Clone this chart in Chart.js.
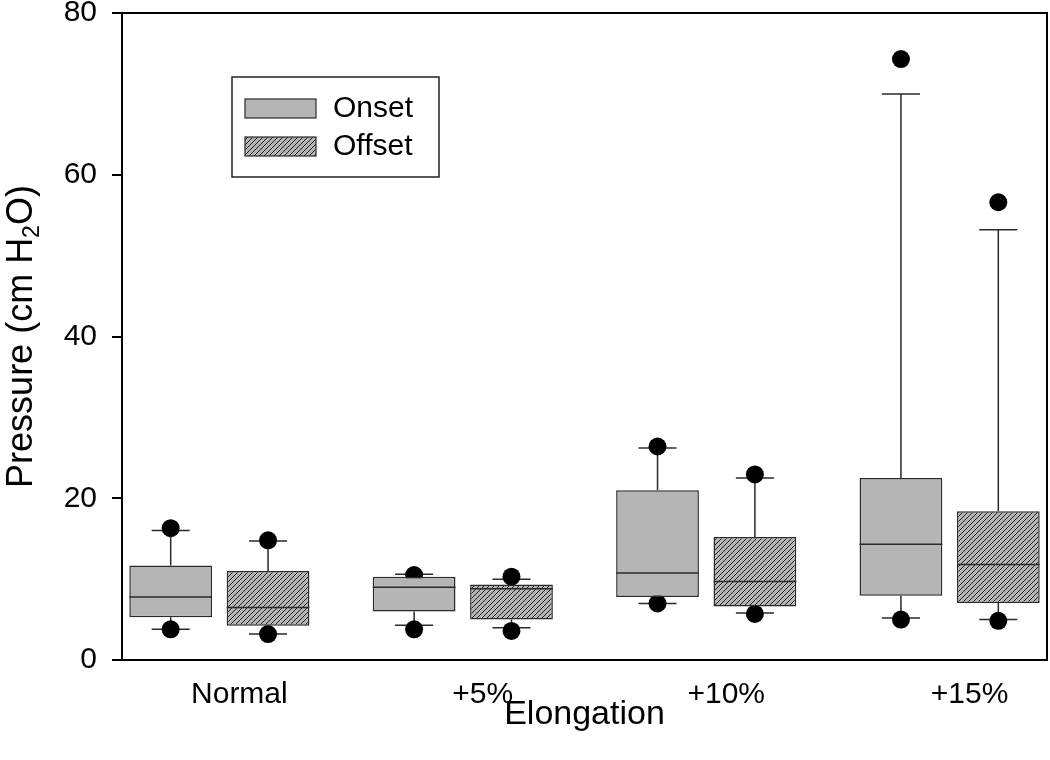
<!DOCTYPE html>
<html>
<head>
<meta charset="utf-8">
<script src="https://cdn.jsdelivr.net/npm/chart.js@4.4.1/dist/chart.umd.min.js"></script>
<style>
  body { margin: 0; background: #fff; }
</style>
</head>
<body>
<canvas id="chart-box" width="1050" height="760"></canvas>
<script>
// Box plot values (cm H2O)
const categories = ['Normal', '+5%', '+10%', '+15%'];

const onsetLowOutlier  = [3.8, 3.8, 7.0, 5.0];
const onsetLowWhisker  = [3.8, 4.3, 7.0, 5.2];
const onsetQ1          = [5.3, 6.0, 7.8, 7.95];
const onsetMedian      = [7.8, 9.0, 10.75, 14.3];
const onsetQ3          = [11.7, 10.3, 21.0, 22.5];
const onsetHighWhisker = [16.0, 10.6, 26.2, 70.0];
const onsetHighOutlier = [16.3, 10.5, 26.4, 74.3];

const offsetLowOutlier  = [3.2, 3.6, 5.7, 4.85];
const offsetLowWhisker  = [3.2, 4.0, 5.8, 5.0];
const offsetQ1          = [4.25, 5.0, 6.6, 7.05];
const offsetMedian      = [6.5, 8.8, 9.7, 11.8];
const offsetQ3          = [11.0, 9.35, 15.2, 18.4];
const offsetHighWhisker = [14.7, 10.0, 22.5, 53.2];
const offsetHighOutlier = [14.8, 10.3, 22.95, 56.6];

const yTicks = [0, 20, 40, 60, 80];

const FONT = "'Liberation Sans', Arial, sans-serif";
const boxFill = '#b5b5b5';
const lineCol = '#2a2a2a';
const groupShift = 0.2; // half distance between the two boxes of a group

const ctx = document.getElementById('chart-box').getContext('2d');

// diagonal hatch for the Offset boxes
function makeHatch() {
    const s = 5;
    const c = document.createElement('canvas');
    c.width = s; c.height = s;
    const g = c.getContext('2d');
    g.fillStyle = boxFill;
    g.fillRect(0, 0, s, s);
    g.strokeStyle = '#222';
    g.lineWidth = 1;
    g.beginPath();
    g.moveTo(0, s); g.lineTo(s, 0);
    g.moveTo(-s, s); g.lineTo(s, -s);
    g.moveTo(0, 2 * s); g.lineTo(2 * s, 0);
    g.stroke();
    return ctx.createPattern(c, 'repeat');
}
const hatch = makeHatch();

const boxData = (q1, q3) => categories.map((c, i) => ({ x: i + 1, y: [q1[i], q3[i]] }));
const dotData = (lo, hi, shift) => {
    const pts = [];
    categories.forEach((c, i) => {
        pts.push({ x: i + 1 + shift, y: lo[i] });
        pts.push({ x: i + 1 + shift, y: hi[i] });
    });
    return pts;
};

const stats = {
    Onset: { lo: onsetLowWhisker, med: onsetMedian, hi: onsetHighWhisker },
    Offset: { lo: offsetLowWhisker, med: offsetMedian, hi: offsetHighWhisker }
};

// whiskers + caps go under the dots and boxes
const whiskers = {
    id: 'whiskers',
    beforeDatasetsDraw(chart) {
        const y = chart.scales.y;
        const c = chart.ctx;
        c.save();
        c.strokeStyle = lineCol;
        c.lineWidth = 1.5;
        chart.data.datasets.forEach((ds, di) => {
            if (ds.type !== 'bar') return;
            const s = stats[ds.label];
            chart.getDatasetMeta(di).data.forEach((bar, i) => {
                const capW = bar.width * 0.46;
                const yLo = y.getPixelForValue(s.lo[i]);
                const yHi = y.getPixelForValue(s.hi[i]);
                const yQ1 = y.getPixelForValue(ds.data[i].y[0]);
                const yQ3 = y.getPixelForValue(ds.data[i].y[1]);
                c.beginPath();
                c.moveTo(bar.x, yQ3); c.lineTo(bar.x, yHi);
                c.moveTo(bar.x, yQ1); c.lineTo(bar.x, yLo);
                c.moveTo(bar.x - capW / 2, yHi); c.lineTo(bar.x + capW / 2, yHi);
                c.moveTo(bar.x - capW / 2, yLo); c.lineTo(bar.x + capW / 2, yLo);
                c.stroke();
            });
        });
        c.restore();
    },
    afterDatasetsDraw(chart) {
        const y = chart.scales.y;
        const c = chart.ctx;
        const a = chart.chartArea;
        c.save();
        c.strokeStyle = lineCol;
        c.lineWidth = 1.5;
        chart.data.datasets.forEach((ds, di) => {
            if (ds.type !== 'bar') return;
            const s = stats[ds.label];
            chart.getDatasetMeta(di).data.forEach((bar, i) => {
                const ym = y.getPixelForValue(s.med[i]);
                c.beginPath();
                c.moveTo(bar.x - bar.width / 2, ym);
                c.lineTo(bar.x + bar.width / 2, ym);
                c.stroke();
            });
        });
        // frame round the plot
        c.strokeStyle = '#000';
        c.lineWidth = 2;
        c.strokeRect(a.left, a.top, a.right - a.left, a.bottom - a.top);
        c.restore();
    }
};

// legend box and rotated y title with subscript
const extras = {
    id: 'extras',
    afterDraw(chart) {
        const c = chart.ctx;
        const a = chart.chartArea;
        c.save();
        const x0 = a.left + 110, y0 = a.top + 64;
        c.strokeStyle = '#222';
        c.lineWidth = 1.5;
        c.strokeRect(x0, y0, 207, 100);
        [['Onset', boxFill], ['Offset', hatch]].forEach((it, k) => {
            const ry = y0 + 22 + k * 38;
            c.fillStyle = it[1];
            c.fillRect(x0 + 13, ry, 71, 19);
            c.lineWidth = 1.2;
            c.strokeStyle = lineCol;
            c.strokeRect(x0 + 13, ry, 71, 19);
            c.fillStyle = '#000';
            c.font = '30px ' + FONT;
            c.textBaseline = 'middle';
            c.textAlign = 'left';
            c.fillText(it[0], x0 + 101, ry + 10);
        });

        // y title
        c.translate(19, (a.top + a.bottom) / 2);
        c.rotate(-Math.PI / 2);
        c.textBaseline = 'alphabetic';
        c.textAlign = 'left';
        const big = '36px ' + FONT, small = '23px ' + FONT;
        const p1 = 'Pressure (cm H', p2 = '2', p3 = 'O)';
        c.font = big; const w1 = c.measureText(p1).width, w3 = c.measureText(p3).width;
        c.font = small; const w2 = c.measureText(p2).width;
        let x = -(w1 + w2 + w3) / 2;
        c.fillStyle = '#000';
        c.font = big; c.fillText(p1, x, 13); x += w1;
        c.font = small; c.fillText(p2, x, 20); x += w2;
        c.font = big; c.fillText(p3, x, 13);
        c.restore();
    }
};

const chart = new Chart(ctx, {
    data: {
        datasets: [
            {
                type: 'bar', label: 'Onset', order: 0,
                data: boxData(onsetQ1, onsetQ3),
                backgroundColor: boxFill, borderColor: lineCol,
                borderWidth: 1.5, borderSkipped: false
            },
            {
                type: 'bar', label: 'Offset', order: 0,
                data: boxData(offsetQ1, offsetQ3),
                backgroundColor: hatch, borderColor: lineCol,
                borderWidth: 1.5, borderSkipped: false
            },
            {
                type: 'scatter', label: 'Onset points', order: 1,
                data: dotData(onsetLowOutlier, onsetHighOutlier, -groupShift),
                pointRadius: 9, backgroundColor: '#000', borderWidth: 0
            },
            {
                type: 'scatter', label: 'Offset points', order: 1,
                data: dotData(offsetLowOutlier, offsetHighOutlier, groupShift),
                pointRadius: 9, backgroundColor: '#000', borderWidth: 0
            }
        ]
    },
    options: {
        responsive: false,
        animation: false,
        categoryPercentage: 0.8,
        barPercentage: 0.85,
        layout: { autoPadding: false, padding: { top: 13, right: 3, left: 0, bottom: 0 } },
        plugins: {
            legend: { display: false },
            tooltip: { enabled: false }
        },
        scales: {
            x: {
                type: 'linear',
                offset: false,
                min: 0.6,
                max: 4.4,
                afterBuildTicks: (s) => { s.ticks = categories.map((c, i) => ({ value: i + 1 })); },
                afterFit: (s) => { s.height = 100; s.paddingLeft = 0; s.paddingRight = 0; },
                grid: { display: false, drawTicks: false, offset: false },
                border: { display: false },
                ticks: {
                    callback: (v, i) => categories[i],
                    labelOffset: 20,
                    padding: 17,
                    maxRotation: 0,
                    autoSkip: false,
                    color: '#000',
                    font: { size: 30, family: FONT }
                },
                title: {
                    display: true,
                    text: 'Elongation',
                    color: '#000',
                    padding: { top: 0, bottom: 25 },
                    font: { size: 34, family: FONT }
                }
            },
            y: {
                type: 'linear',
                min: 0,
                max: 80,
                afterBuildTicks: (s) => { s.ticks = yTicks.map(v => ({ value: v })); },
                afterFit: (s) => { s.width = 122; s.paddingTop = 0; s.paddingBottom = 0; },
                grid: {
                    drawOnChartArea: false,
                    drawTicks: true,
                    tickLength: 10,
                    color: '#000',
                    lineWidth: 2
                },
                border: { display: false },
                ticks: {
                    padding: 15,
                    color: '#000',
                    font: { size: 30, family: FONT }
                }
            }
        }
    },
    plugins: [whiskers, extras]
});
</script>
</body>
</html>
